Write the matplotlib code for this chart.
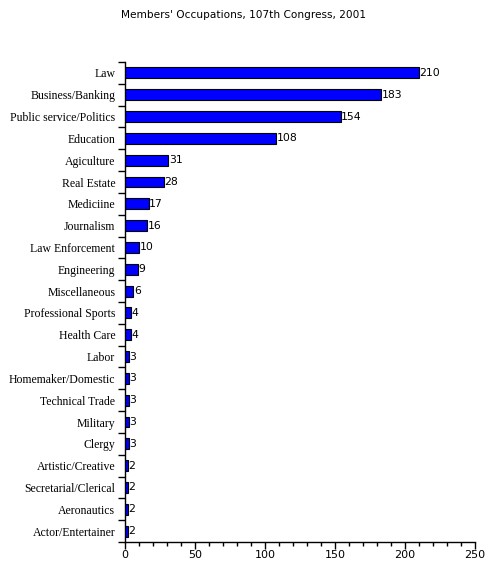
import matplotlib
matplotlib.use("Agg")
import matplotlib.pyplot as plt #Librería para graficar
from matplotlib.ticker import MultipleLocator, FixedLocator

# Datos del gráfico
ocupaciones = ["Law", "Business/Banking", "Public service/Politics", "Education",
               "Agiculture", "Real Estate", "Mediciine", "Journalism",
               "Law Enforcement", "Engineering", "Miscellaneous", "Professional Sports",
               "Health Care", "Labor", "Homemaker/Domestic", "Technical Trade",
               "Military", "Clergy", "Artistic/Creative", "Secretarial/Clerical",
               "Aeronautics", "Actor/Entertainer"]
miembros = [210, 183, 154, 108, 31, 28, 17, 16, 10, 9, 6, 4, 4, 3, 3, 3, 3, 3, 2, 2, 2, 2]
ticks_x = [0, 50, 100, 150, 200, 250]

fig = plt.figure(figsize=(4.87, 5.64), dpi=100)
ax = fig.add_axes([0.2567, 0.039, 0.7187, 0.851])

n = len(ocupaciones)
pos = list(range(n))[::-1] # Law arriba
ax.barh(pos, miembros, height=0.5, color="#0000ff", edgecolor="black", linewidth=0.8)

for p, v in zip(pos, miembros):
    ax.text(v + 0.3, p, str(v), va="center", ha="left", fontsize=7.8, family="DejaVu Sans")

ax.set_xlim(0, 250)
ax.set_ylim(-0.5, n - 0.5)
ax.set_yticks(pos)
ax.set_yticklabels(ocupaciones, family="Liberation Serif", fontsize=8.5)
ax.yaxis.set_minor_locator(FixedLocator([i - 0.5 for i in range(n + 1)]))
ax.tick_params(axis="y", which="major", length=0, pad=7)
ax.tick_params(axis="y", which="minor", length=5, width=1)

ax.set_xticks(ticks_x)
ax.set_xticklabels([str(t) for t in ticks_x], fontsize=8, family="DejaVu Sans")
ax.xaxis.set_minor_locator(MultipleLocator(10))
ax.tick_params(axis="x", which="major", length=5, width=1, pad=1)
ax.tick_params(axis="x", which="minor", length=3, width=1)

for lado in ["top", "right"]:
    ax.spines[lado].set_visible(False)
ax.spines["left"].set_linewidth(1)
ax.spines["bottom"].set_linewidth(1)

fig.text(0.5, 0.973, "Members' Occupations, 107th Congress, 2001", ha="center", va="center",
         fontsize=7.6, family="DejaVu Sans")

fig.savefig("out.png", dpi=100)
